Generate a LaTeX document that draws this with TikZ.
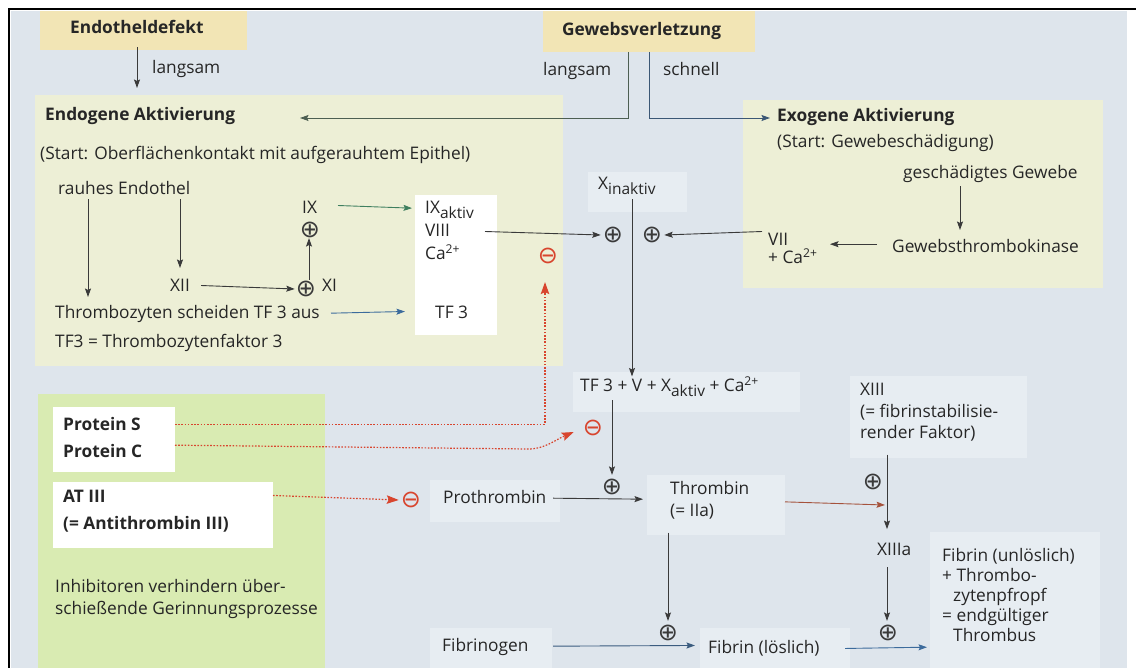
\documentclass[tikz,border=0pt]{standalone}
\usepackage{fontspec}
\setmainfont{Open Sans}
\newfontfamily\symf{DejaVu Sans}
\usetikzlibrary{arrows.meta,calc}
\definecolor{bgc}{HTML}{DEE5EC}
\definecolor{yel}{HTML}{EDEFD6}
\definecolor{tanc}{HTML}{F2E5B5}
\definecolor{grn}{HTML}{D9EBB2}
\definecolor{lite}{HTML}{E7EDF2}
\definecolor{txt}{HTML}{262626}
\definecolor{rd}{HTML}{D8452E}
\definecolor{ln}{HTML}{3A3A3A}
\definecolor{lgr}{HTML}{3F7F5F}
\definecolor{lbl}{HTML}{3C6B9C}
\definecolor{lrd}{HTML}{A5523C}
\definecolor{lgl}{HTML}{4D5F52}
\newcommand\fs{\fontsize{17.3}{20}\selectfont}
\newcommand\sbx[1]{\raisebox{-0.3em}{\fontsize{15.5}{16}\selectfont #1}}
\begin{document}
\begin{tikzpicture}[x=1pt,y=-1pt,
  t/.style={anchor=mid west, inner sep=0pt, text=txt, font=\fs},
  bt/.style={t, font=\fs\bfseries},
  arr/.style={draw=ln, line width=0.9pt, -{Stealth[length=8.5pt,width=6pt,inset=1.5pt]}},
  rarr/.style={draw=rd, line width=1.2pt, dash pattern=on 1.6pt off 1.6pt, -{Stealth[length=12pt,width=8.5pt,inset=2pt]}},
  pm/.style={inner sep=0pt, font=\symf\fontsize{24}{24}\selectfont, text=ln},
  rm/.style={pm, text=rd}
]
\useasboundingbox (0,0) rectangle (1136,668);
\fill[white] (0,0) rectangle (1136,668);
\fill[bgc] (11,11) rectangle (1127,668);
% regions
\fill[tanc] (40,11) rectangle (247,50);
\fill[tanc] (543,11) rectangle (755,52);
\fill[yel] (35,95) rectangle (563,366);
\fill[yel] (743,100) rectangle (1103,288);
\fill[grn] (38,394) rectangle (325,668);
\fill[lite] (588,172) rectangle (687,212);
\fill[lite] (573,372) rectangle (800,412);
\fill[lite] (430,480) rectangle (560,522);
\fill[lite] (647,475) rectangle (785,535);
\fill[lite] (850,376) rectangle (1027,458);
\fill[lite] (930,532) rectangle (1100,668);
\fill[lite] (430,628) rectangle (552,668);
\fill[lite] (700,628) rectangle (850,668);
\fill[white] (415,195) rectangle (497,335);
\fill[white] (53,407) rectangle (175,472);
\fill[white] (53,482) rectangle (273,548);
\draw[line width=2.2pt] (9,668) -- (9,9) -- (1136,9);

% texts
\node[bt] (endodef) at (70,31) {Endotheldefekt};
\node[t] (lang1) at (152,71) {langsam};
\node[bt] (gew) at (562,33) {Gewebsverletzung};
\node[t] (lang2) at (543,73) {langsam};
\node[t] (schnell) at (663,73) {schnell};
\node[bt] (endo) at (45,118) {Endogene Aktivierung};
\node[t] (start1) at (40,157) {(Start: Oberflächenkontakt mit aufgerauhtem Epithel)};
\node[bt] (exo) at (777,119) {Exogene Aktivierung};
\node[t] (start2) at (777,145) {(Start: Gewebeschädigung)};
\node[t] (gesch) at (903,176) {geschädigtes Gewebe};
\node[t] (gtk) at (892,250) {Gewebsthrombokinase};
\node[t] (vii) at (768,243) {VII};
\node[t] (ca7) at (768,261) {+ Ca\textsuperscript{2+}};
\node[t] (rauh) at (58,192) {rauhes Endothel};
\node[t] (xii) at (170,289) {XII};
\node[pm] (p1) at (306,289) {⊕};
\node[t] (xi) at (322,289) {XI};
\node[pm] (p2) at (310,230) {⊕};
\node[t] (ix) at (302,211) {IX};
\node[t] (ixa) at (425,211) {IX\sbx{aktiv}};
\node[t] (viii) at (425,234) {VIII};
\node[t] (ca8) at (425,257) {Ca\textsuperscript{2+}};
\node[t] (tf3) at (435,316) {TF 3};
\node[t] (thr) at (55,316) {Thrombozyten scheiden TF 3 aus};
\node[t] (tfdef) at (55,345) {TF3 = Thrombozytenfaktor 3};
\node[t] (xin) at (598,187) {X\sbx{inaktiv}};
\node[pm] (p3) at (613,235) {⊕};
\node[pm] (p4) at (652,235) {⊕};
\node[rm] (m1) at (548,256) {⊖};
\node[t] (tf3v) at (580,389) {TF 3 + V + X\sbx{aktiv} + Ca\textsuperscript{2+}};
\node[rm] (m2) at (593,428) {⊖};
\node[pm] (p5) at (612,487) {⊕};
\node[bt] (ps) at (63,428) {Protein S};
\node[bt] (pc) at (63,455) {Protein C};
\node[bt] (at) at (63,500) {AT III};
\node[bt] (atd) at (63,527) {(= Antithrombin III)};
\node[rm] (m3) at (411,500) {⊖};
\node[t] (proth) at (443,501) {Prothrombin};
\node[t] (thromb) at (670,492) {Thrombin};
\node[t] (iia) at (670,514) {(= IIa)};
\node[t] (xiii) at (860,393) {XIII};
\node[t] (xiiid1) at (860,415) {(= fibrinstabilisie-};
\node[t] (xiiid2) at (860,436) {render Faktor)};
\node[pm] (p6) at (873,482) {⊕};
\node[t] (xiiia) at (877,553) {XIIIa};
\node[pm] (p7) at (888,633) {⊕};
\node[pm] (p8) at (668,633) {⊕};
\node[t] (fibgen) at (442,649) {Fibrinogen};
\node[t] (fibl) at (708,651) {Fibrin (löslich)};
\node[t] (fu1) at (942,559) {Fibrin (unlöslich)};
\node[t] (fu2) at (942,579) {+ Thrombo-};
\node[t] (fu3) at (953,599) {zytenpfropf};
\node[t] (fu4) at (942,619) {= endgültiger};
\node[t] (fu5) at (953,639) {Thrombus};
\node[t] (inh1) at (55,590) {Inhibitoren verhindern über-};
\node[t] (inh2) at (55,612) {schießende Gerinnungsprozesse};

% coordinates
\coordinate (gl) at (628,52);
\coordinate (gr) at (649,52);
\coordinate (endoT) at (300,118);
\coordinate (exoT) at (770,118);

% connectors
\draw[arr] (endodef.south -| 137,0) ++(0,13) -- (137,88);
\draw[arr, draw=lgl] (gl) |- (endoT);
\draw[arr, draw=lbl!60!ln] (gr) |- (exoT);
\draw[arr] (rauh.south -| 88,0) ++(0,4) -- (88,297);
\draw[arr] (rauh.south -| 180,0) ++(0,4) -- (180,268);
\draw[arr] (xii.east) ++(11,0) -- ($(p1.west)+(-1,0)$);
\draw[arr] (p1.north -| 309,0) ++(0,-1) -- (p2.south -| 309,0);
\draw[arr, draw=lgr] (ix.east -| 338,0) ++(0,-2) -- ($(ixa.west)+(-13,-2)$);
\draw[arr, draw=lbl] (thr.east -| 331,0) ++(0,-1) -- ($(tf3.west)+(-30,-1)$);
\draw[arr] (viii.east -| 485,0) ++(0,1) -- ($(p3.west)+(-2,0)$);
\draw[arr] (vii.west) ++(-6,-8) -- ($(p4.east)+(2,0)$);
\draw[arr] (xin.south -| 632,0) ++(0,4) -- (tf3v.north -| 632,0);
\draw[arr] (gtk.west) ++(-15,-2) -- ++(-47,0);
\draw[arr] (gesch.south -| 960,0) ++(0,3) -- (960,230);
\draw[rarr] (ps.east -| 175,0) -| ($(m1.south)+(-3,18)$);
\draw[rarr] (pc.east -| 175,0) ++(0,-6) -- (528,449) .. controls (545,449) and (555,440) .. ($(m2.west)+(-9,4)$);
\draw[rarr] (atd.east -| 273,0) ++(0,-29) -- ($(m3.west)+(-2,0)$);
\draw[arr] (tf3v.south -| 612,0) ++(0,3) -- ($(p5.north)+(0,-4)$);
\draw[arr] (proth.east -| 553,0) ++(0,1) -- ($(thromb.west)+(-27,11)$);
\draw[arr, draw=lrd] (iia.east -| 785,0) ++(0,-10) -- (885,505);
\draw[arr] (xiiid2.south -| 887,0) ++(0,13) -- ($(xiiia.north -| 887,0)+(0,-14)$);
\draw[arr] (xiiia.south -| 887,0) ++(0,11) -- ($(p7.north -| 887,0)+(0,-4)$);
\draw[arr] (iia.south -| 668,0) ++(0,13) -- ($(p8.north)+(0,-4)$);
\draw[arr, draw=lbl!70!ln] (fibgen.east -| 553,0) ++(0,-1) -- ($(fibl.west)+(-13,-3)$);
\draw[arr, draw=lbl] (fibl.east -| 845,0) -- ($(fu5.west)+(-26,12)$);
\end{tikzpicture}
\end{document}
